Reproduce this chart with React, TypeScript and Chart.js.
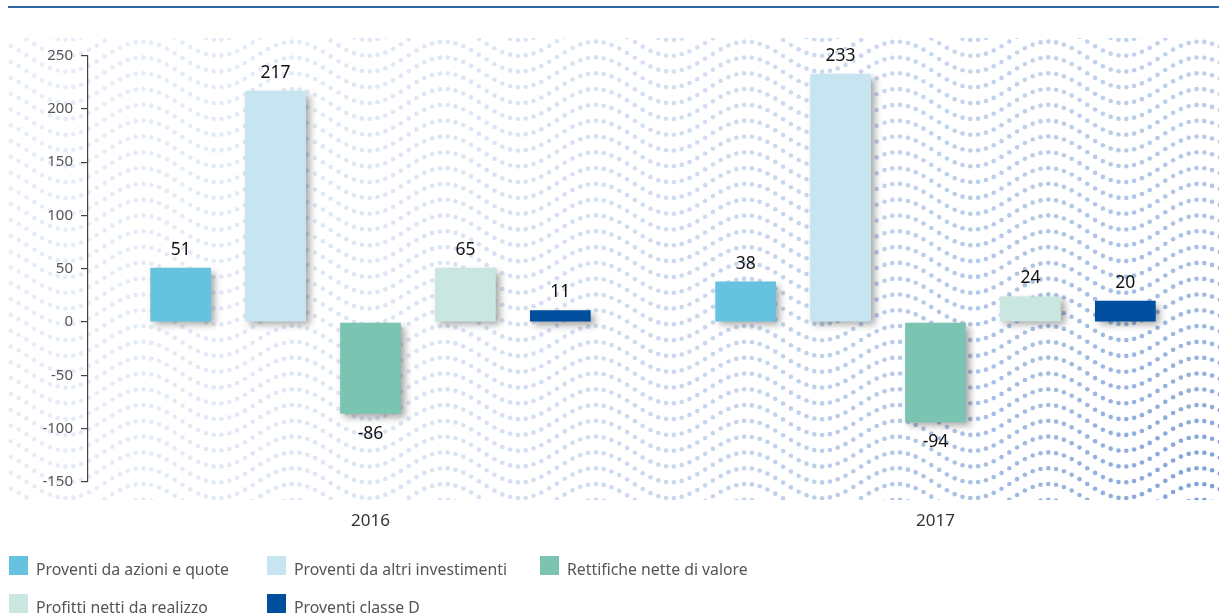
import React, { useEffect, useRef } from "react";
import { Chart, registerables } from "chart.js";

Chart.register(...registerables);

const categories = ["2016", "2017"];
const seriesNames = [
  "Proventi da azioni e quote",
  "Proventi da altri investimenti",
  "Rettifiche nette di valore",
  "Profitti netti da realizzo",
  "Proventi classe D",
];
const azioni = [51, 38];
const altri = [217, 233];
const rettifiche = [-86, -94];
const profitti = [51, 24];
const classeD = [11, 20];
// printed value labels as they appear on the chart
const azioniLabels = ["51", "38"];
const altriLabels = ["217", "233"];
const rettificheLabels = ["-86", "-94"];
const profittiLabels = ["65", "24"];
const classeDLabels = ["11", "20"];
const yTicks = [-150, -100, -50, 0, 50, 100, 150, 200, 250];

const colors = ["#65c3df", "#c6e5f1", "#7cc4b2", "#cae6e0", "#004f9f"];
const FONT = "'Noto Sans', sans-serif";

const seriesValues = [azioni, altri, rettifiche, profitti, classeD];
const seriesLabels = [azioniLabels, altriLabels, rettificheLabels, profittiLabels, classeDLabels];

const patternPlugin = {
  id: "wavePattern",
  beforeDraw(chart: any) {
    const ctx = chart.ctx as CanvasRenderingContext2D;
    const x0 = 8, x1 = 1219, y0 = 38, y1 = 500;
    const P = 151, A = 15, dx = 7.8, dy = 15.8;
    const crestX = 1048.3, crestY = 405;
    ctx.save();
    ctx.beginPath();
    ctx.rect(x0, y0, x1 - x0, y1 - y0);
    ctx.clip();
    const nStart = Math.floor((x0 - crestX) / dx) - 1;
    const nEnd = Math.ceil((x1 - crestX) / dx) + 1;
    const kStart = Math.floor((y0 - A * 2 - crestY) / dy) - 1;
    const kEnd = Math.ceil((y1 + A - crestY) / dy) + 1;
    for (let k = kStart; k <= kEnd; k++) {
      const base = crestY + k * dy;
      for (let n = nStart; n <= nEnd; n++) {
        const x = crestX + n * dx;
        const y = base + A - A * Math.cos((2 * Math.PI * (x - crestX)) / P);
        if (y < y0 - 3 || y > y1 + 3) continue;
        const d = Math.hypot(1225 - x, 505 - y);
        const t = Math.exp(-d / 500);
        const r = Math.round(241 - (241 - 118) * t);
        const g = Math.round(245 - (245 - 156) * t);
        const b = Math.round(251 - (251 - 214) * t);
        ctx.fillStyle = `rgb(${r},${g},${b})`;
        ctx.beginPath();
        ctx.arc(x, y, 2.3, 0, Math.PI * 2);
        ctx.fill();
      }
    }
    ctx.restore();
  },
};

const shadowPlugin = {
  id: "barShadow",
  beforeDatasetsDraw(chart: any) {
    const ctx = chart.ctx as CanvasRenderingContext2D;
    ctx.save();
    ctx.shadowColor = "rgba(0,0,0,0.35)";
    ctx.shadowBlur = 7;
    ctx.shadowOffsetX = 4;
    ctx.shadowOffsetY = 4;
  },
  afterDatasetsDraw(chart: any) {
    const ctx = chart.ctx as CanvasRenderingContext2D;
    ctx.restore();
    ctx.save();
    ctx.font = `17.5px ${FONT}`;
    ctx.fillStyle = "#111";
    ctx.textAlign = "center";
    ctx.textBaseline = "middle";
    chart.data.datasets.forEach((ds: any, i: number) => {
      const meta = chart.getDatasetMeta(i);
      meta.data.forEach((bar: any, j: number) => {
        const v = ds.data[j];
        const text = seriesLabels[i][j];
        const y = v >= 0 ? bar.y - 18 : bar.y + 20;
        ctx.fillText(text, bar.x, y);
      });
    });
    ctx.restore();
  },
};

export default function App() {
  const ref = useRef<HTMLCanvasElement>(null);
  useEffect(() => {
    if (!ref.current) return;
    const chart = new Chart(ref.current, {
      type: "bar",
      data: {
        labels: categories,
        datasets: seriesNames.map((name, i) => ({
          label: name,
          data: seriesValues[i],
          backgroundColor: colors[i],
          borderWidth: 0,
          categoryPercentage: 0.84,
          barPercentage: 0.64,
        })),
      },
      options: {
        animation: false,
        responsive: false,
        devicePixelRatio: 1,
        layout: { padding: { left: 0, top: 55.5, right: 1, bottom: 74 } },
        plugins: { legend: { display: false }, tooltip: { enabled: false } },
        scales: {
          x: {
            grid: { display: false, drawTicks: false },
            border: { display: false },
            ticks: { color: "#333", font: { family: FONT, size: 17 }, padding: 29 },
            afterFit(scale: any) {
              scale.height = 60;
            },
          },
          y: {
            min: -150,
            max: 250,
            afterBuildTicks(scale: any) {
              scale.ticks = yTicks.map((v) => ({ value: v }));
            },
            grid: { drawOnChartArea: false, tickLength: 7, color: "#444", lineWidth: 1.2 },
            border: { display: true, color: "#444", width: 1.2 },
            ticks: { color: "#555", font: { family: FONT, size: 15 }, padding: 8 },
            afterFit(scale: any) {
              scale.width = 88;
            },
          },
        },
      },
      plugins: [patternPlugin, shadowPlugin],
    });
    return () => chart.destroy();
  }, []);

  const legendPos = [
    { x: 9, y: 556 },
    { x: 267, y: 556 },
    { x: 540, y: 556 },
    { x: 9, y: 594 },
    { x: 267, y: 594 },
  ];

  return (
    <div style={{ position: "fixed", left: 0, top: 0, width: 1219, height: 616, background: "#fff", overflow: "hidden" }}>
      <div style={{ position: "absolute", left: 8, right: 0, top: 6, height: 2, background: "#2f64a8" }} />
      <canvas ref={ref} width={1219} height={616} style={{ position: "absolute", left: 0, top: 0, width: 1219, height: 616 }} />
      {seriesNames.map((name, i) => (
        <div key={name} style={{ position: "absolute", left: legendPos[i].x, top: legendPos[i].y, height: 19 }}>
          <div style={{ position: "absolute", left: 0, top: 0, width: 19, height: 19, background: colors[i] }} />
          <span style={{ position: "absolute", left: 27, top: 3, fontFamily: FONT, fontSize: 15.8, color: "#555", whiteSpace: "nowrap", lineHeight: "20px" }}>{name}</span>
        </div>
      ))}
    </div>
  );
}
